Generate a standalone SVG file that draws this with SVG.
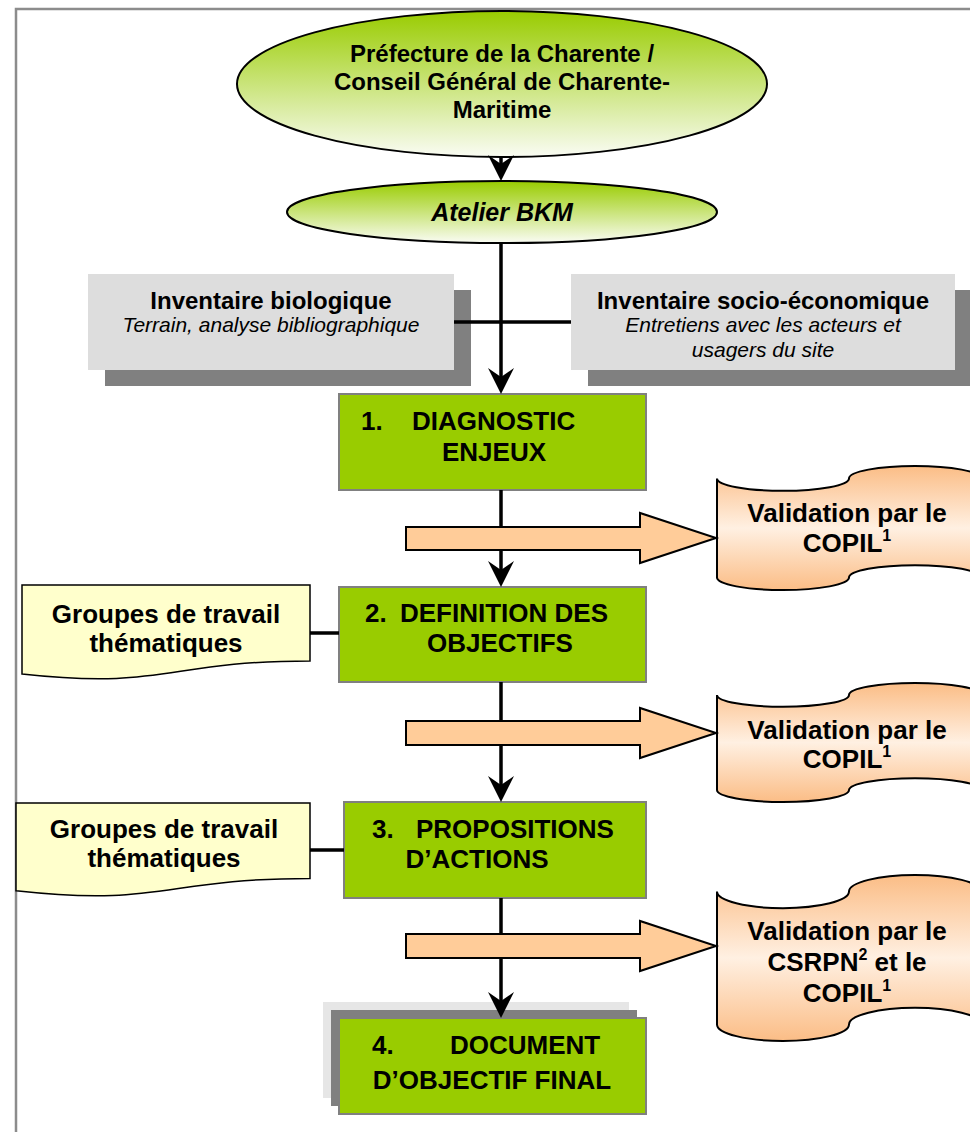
<svg xmlns="http://www.w3.org/2000/svg" width="970" height="1132" viewBox="0 0 970 1132">
<style>
.b{font-family:"Liberation Sans",Arial,sans-serif;font-weight:bold;fill:#000}
.i{font-family:"Liberation Sans",Arial,sans-serif;font-style:italic;fill:#000}
.big{font-size:26px}
.mid{font-size:24px}
.sm{font-size:21px}
.c{text-anchor:middle}
.step{fill:#99cc00;stroke:#808080;stroke-width:2}
.inv{fill:#dddddd}
.shadow{fill:#808080}
.scroll{fill:url(#gScroll);stroke:#000;stroke-width:2}
.grp{fill:#ffffcc;stroke:#000;stroke-width:1.5}
.ell{fill:url(#gEll);stroke:#000;stroke-width:2}
.ln{stroke:#000;stroke-width:3.5;fill:none}
.blk{fill:#ffcc99;stroke:#000;stroke-width:2}
</style>
<defs>
<linearGradient id="gEll" x1="0" y1="0" x2="0" y2="1">
<stop offset="0" stop-color="#99cc00"/>
<stop offset="1" stop-color="#fafcf4"/>
</linearGradient>
<linearGradient id="gScroll" x1="0" y1="0" x2="0" y2="1">
<stop offset="0" stop-color="#fbbd86"/>
<stop offset="0.5" stop-color="#fff0e2"/>
<stop offset="1" stop-color="#fbbd86"/>
</linearGradient>
<marker id="ah" markerUnits="userSpaceOnUse" markerWidth="26" markerHeight="28" viewBox="0 0 26 28" refX="16" refY="14" orient="auto">
<path d="M0,1 L26,14 L0,27 L9,14 Z" fill="#000"/>
</marker>
</defs>

<path d="M16,1132 V9 H970" fill="none" stroke="#8c8c8c" stroke-width="2.5"/>

<g id="n-prefecture">
<ellipse class="ell" cx="502" cy="84" rx="265" ry="73"/>
<text class="b mid c" x="502" y="62">Préfecture de la Charente /</text>
<text class="b mid c" x="502" y="90">Conseil Général de Charente-</text>
<text class="b mid c" x="502" y="118">Maritime</text>
</g>

<g id="n-atelier">
<ellipse class="ell" cx="502" cy="212" rx="215" ry="31"/>
<text class="b c" font-style="italic" font-size="25" x="502" y="221">Atelier BKM</text>
</g>

<g id="n-inv-bio">
<rect class="shadow" x="105" y="290" width="366" height="96"/>
<rect class="inv" x="88" y="274" width="366" height="96"/>
<text class="b mid c" x="271" y="309">Inventaire biologique</text>
<text class="i sm c" x="271" y="332">Terrain, analyse bibliographique</text>
</g>

<g id="n-inv-socio">
<rect class="shadow" x="588" y="290" width="384" height="96"/>
<rect class="inv" x="571" y="274" width="384" height="96"/>
<text class="b mid c" x="763" y="309">Inventaire socio-économique</text>
<text class="i sm c" x="763" y="332">Entretiens avec les acteurs et</text>
<text class="i sm c" x="763" y="357">usagers du site</text>
</g>

<g id="n-diagnostic">
<rect class="step" x="339" y="394" width="307" height="96"/>
<text class="b big" x="361" y="430">1.</text>
<text class="b big" x="412" y="430">DIAGNOSTIC</text>
<text class="b big c" x="494" y="461">ENJEUX</text>
</g>

<g id="n-valid1">
<path class="scroll" d="M717,478.4 A66,12.4 0 0 0 849,478.4 A66,12.4 0 0 1 981,478.4 L981,577.6 A66,12.4 0 0 0 849,577.6 A66,12.4 0 0 1 717,577.6 Z"/>
<text class="b big c" x="847" y="522">Validation par le</text>
<text class="b big c" x="847" y="552">COPIL<tspan font-size="16" dy="-11">1</tspan></text>
</g>

<g id="n-groupes1">
<path class="grp" d="M22,585 H310 V661 C166,661 166,690 22,674 Z"/>
<text class="b big c" x="166" y="623">Groupes de travail</text>
<text class="b big c" x="166" y="652">thématiques</text>
</g>

<g id="n-definition">
<rect class="step" x="339" y="587" width="307" height="95"/>
<text class="b big" x="365" y="622">2.</text>
<text class="b big" x="400" y="622">DEFINITION DES</text>
<text class="b big c" x="500" y="652">OBJECTIFS</text>
</g>

<g id="n-valid2">
<path class="scroll" d="M717,694.9 A66,11.9 0 0 0 849,694.9 A66,11.9 0 0 1 981,694.9 L981,790.1 A66,11.9 0 0 0 849,790.1 A66,11.9 0 0 1 717,790.1 Z"/>
<text class="b big c" x="847" y="739">Validation par le</text>
<text class="b big c" x="847" y="768">COPIL<tspan font-size="16" dy="-11">1</tspan></text>
</g>

<g id="n-groupes2">
<path class="grp" d="M16,803 H310 V878.4 C163,878.4 163,907 16,890.8 Z"/>
<text class="b big c" x="164" y="838">Groupes de travail</text>
<text class="b big c" x="164" y="867">thématiques</text>
</g>

<g id="n-propositions">
<rect class="step" x="344" y="802" width="302" height="96"/>
<text class="b big" x="372" y="838">3.</text>
<text class="b big" x="416" y="838">PROPOSITIONS</text>
<text class="b big c" x="477" y="868">D’ACTIONS</text>
</g>

<g id="n-valid3">
<path class="scroll" d="M717,891.6 A66,16.6 0 0 0 849,891.6 A66,16.6 0 0 1 981,891.6 L981,1024.4 A66,16.6 0 0 0 849,1024.4 A66,16.6 0 0 1 717,1024.4 Z"/>
<text class="b big c" x="847" y="940">Validation par le</text>
<text class="b big c" x="847" y="971">CSRPN<tspan font-size="16" dy="-11">2</tspan><tspan dy="11"> et le</tspan></text>
<text class="b big c" x="847" y="1002">COPIL<tspan font-size="16" dy="-11">1</tspan></text>
</g>

<g id="n-document">
<rect fill="#e6e6e6" x="323" y="1002" width="306" height="96"/>
<rect class="shadow" x="331" y="1010" width="306" height="96"/>
<rect class="step" x="339" y="1018" width="307" height="96"/>
<text class="b big" x="372" y="1054">4.</text>
<text class="b big" x="450" y="1054">DOCUMENT</text>
<text class="b big c" x="492" y="1089">D’OBJECTIF FINAL</text>
</g>

<g id="connectors">
<line class="ln" x1="501" y1="157" x2="501" y2="171" marker-end="url(#ah)"/>
<line class="ln" x1="501" y1="243" x2="501" y2="384" marker-end="url(#ah)"/>
<line class="ln" x1="454" y1="322" x2="571" y2="322"/>
<line class="ln" x1="501" y1="490" x2="501" y2="577" marker-end="url(#ah)"/>
<line class="ln" x1="501" y1="682" x2="501" y2="792" marker-end="url(#ah)"/>
<line class="ln" x1="501" y1="898" x2="501" y2="1008" marker-end="url(#ah)"/>
<line class="ln" x1="310" y1="633" x2="339" y2="633"/>
<line class="ln" x1="310" y1="850" x2="344" y2="850"/>
<path class="blk" d="M406,527 H640 V513 L716,538 L640,563 V550 H406 Z"/>
<path class="blk" d="M406,721 H640 V708 L716,733 L640,758 V745 H406 Z"/>
<path class="blk" d="M406,934 H640 V921 L716,946 L640,971 V958 H406 Z"/>
</g>
</svg>
